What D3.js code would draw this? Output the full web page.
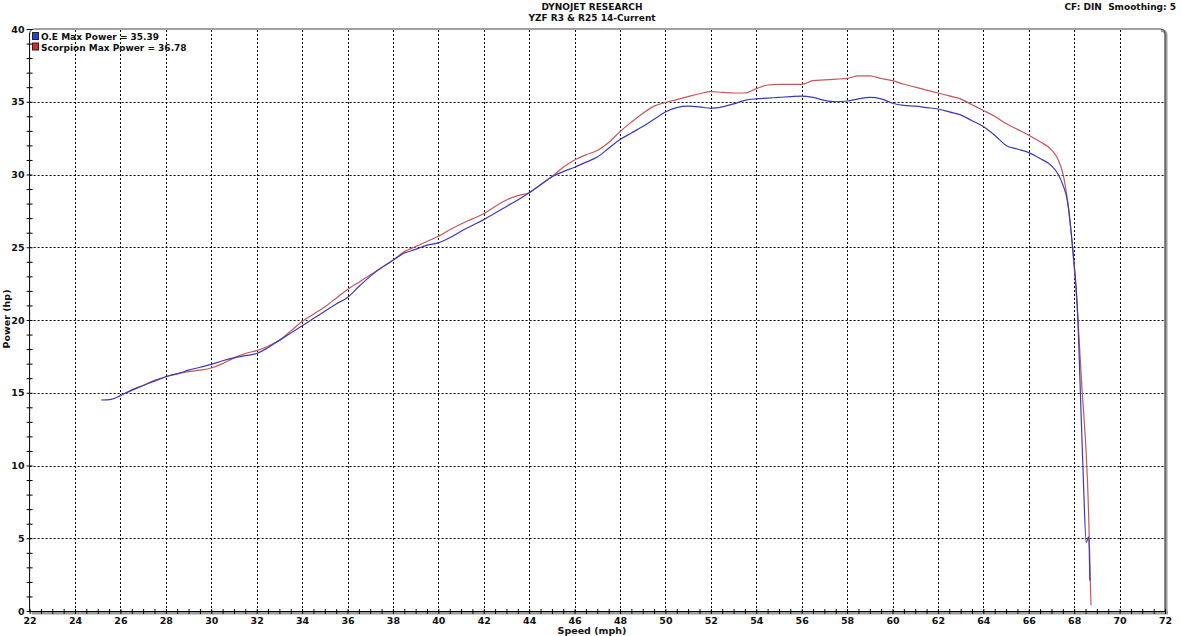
<!DOCTYPE html>
<html><head><meta charset="utf-8">
<script src="https://cdn.jsdelivr.net/npm/d3@7"></script>
<style>
html,body{margin:0;padding:0;background:#fff;}
svg{display:block;font-family:"DejaVu Sans",Verdana,sans-serif;}
</style></head>
<body><svg id="c" width="1182" height="636"></svg>
<script>
const titleLines = ["DYNOJET RESEARCH", "YZF R3 & R25 14-Current"];
const cornerNote = "CF: DIN  Smoothing: 5";
const xLabel = "Speed (mph)";
const yLabel = "Power (hp)";
const seriesNames = ["O.E Max Power = 35.39", "Scorpion Max Power = 36.78"];
const xTicks = [22,24,26,28,30,32,34,36,38,40,42,44,46,48,50,52,54,56,58,60,62,64,66,68,70,72];
const yTicks = [0,5,10,15,20,25,30,35,40];

// O.E (stock) run: [speed mph, power hp]
const oeSpeed = [25.15,25.6,26.0,26.5,27,27.5,28,28.6,29,29.5,30,30.5,31,31.5,32,32.5,33,33.5,34,34.5,35,35.5,36,36.5,37,37.5,38,38.5,39,39.5,40,40.5,41,41.5,42,42.5,43,43.5,44,44.5,45,45.5,46,46.5,47,47.5,48,48.5,49,49.5,50,50.5,51,51.5,52,52.5,53,53.5,54,54.5,55,55.5,56,56.5,57,57.5,58,58.5,59,59.5,60,60.5,61,61.5,62,62.5,63,63.5,64,64.5,65,65.5,66,66.5,67,67.3,67.5,67.7,67.94,68.16,68.26,68.41,68.53,68.64,68.69];
const oePower = [14.5,14.55,14.8,15.2,15.5,15.8,16.1,16.35,16.55,16.75,16.95,17.2,17.4,17.55,17.7,18.1,18.6,19.1,19.6,20.1,20.6,21.1,21.55,22.3,23.0,23.6,24.1,24.6,24.85,25.15,25.3,25.65,26.1,26.5,26.9,27.35,27.8,28.25,28.75,29.3,29.85,30.2,30.5,30.85,31.2,31.8,32.4,32.85,33.3,33.8,34.3,34.6,34.7,34.65,34.55,34.65,34.85,35.1,35.2,35.25,35.3,35.35,35.39,35.3,35.1,35.0,35.05,35.2,35.3,35.2,34.9,34.75,34.7,34.6,34.5,34.3,34.1,33.7,33.3,32.7,32.0,31.75,31.5,31.1,30.6,30.0,29.3,28.2,24.8,20.2,15.65,8.8,4.7,5.1,2.1];

// Scorpion exhaust run
const scSpeed = [26.2,26.5,27,27.5,28,28.5,29,29.5,30,30.5,31,31.5,32,32.5,33,33.5,34,34.5,35,35.5,36,36.5,37,37.5,38,38.5,39,39.5,40,40.5,41,41.5,42,42.5,43,43.5,44,44.5,45,45.5,46,46.5,47,47.5,48,48.5,49,49.5,50,50.5,51,51.5,52,52.5,53,53.5,54,54.5,55,55.5,56,56.5,57,57.5,58,58.5,59,59.5,60,60.5,61,61.5,62,62.5,63,63.5,64,64.5,65,65.5,66,66.5,67,67.3,67.5,67.7,67.94,68.16,68.33,68.59,68.64,68.74];
const scPower = [14.95,15.15,15.5,15.85,16.1,16.3,16.45,16.55,16.7,17.0,17.4,17.7,17.9,18.2,18.6,19.25,19.9,20.4,20.9,21.5,22.1,22.6,23.1,23.6,24.1,24.7,25.05,25.4,25.75,26.2,26.6,26.95,27.3,27.8,28.25,28.55,28.75,29.3,29.85,30.5,31.0,31.35,31.65,32.2,32.95,33.6,34.2,34.7,34.95,35.15,35.35,35.55,35.7,35.65,35.6,35.6,35.9,36.15,36.2,36.2,36.2,36.45,36.5,36.55,36.6,36.78,36.78,36.6,36.45,36.2,36.0,35.8,35.6,35.4,35.2,34.8,34.4,34.0,33.5,33.1,32.7,32.25,31.7,31.0,30.1,28.3,24.8,20.2,15.65,8.8,6.5,0.4];

const svg = d3.select("#c");
const x = d3.scaleLinear().domain([22,72]).range([29.6,1165]);
const y = d3.scaleLinear().domain([0,40]).range([611,29]);

// titles
svg.selectAll("text.title").data(titleLines).join("text")
  .attr("x",592).attr("y",(d,i)=>10+i*11).attr("text-anchor","middle")
  .attr("font-size",9).attr("font-weight","bold").attr("fill","#111").text(d=>d);
svg.append("text").attr("x",1176).attr("y",10).attr("text-anchor","end")
  .attr("font-size",9).attr("font-weight","bold").attr("fill","#111").attr("xml:space","preserve").text(cornerNote);

// frame: top line with rounded corner, right shadowed border
const x0 = x(22), x1 = x(72), yT = y(40), yB = y(0);
svg.append("path").attr("d",`M${x1+1},${yB} L${x1+1},${yT+6} Q${x1+1},${yT+1.5} ${x1-4},${yT+1.5}`)
  .attr("fill","none").attr("stroke","#9a9a9a").attr("stroke-width",3);
svg.append("path").attr("d",`M${x0},${yT+5} Q${x0},${yT} ${x0+5},${yT} L${x1-5},${yT} Q${x1},${yT} ${x1},${yT+5} L${x1},${yB}`)
  .attr("fill","none").attr("stroke","#444").attr("stroke-width",1);
// bottom gray bar
svg.append("rect").attr("x",x0+2).attr("y",yB).attr("width",x1-x0+1).attr("height",3.5).attr("fill","#9c9c9c");

// gridlines
const g = svg.append("g");
g.selectAll("line.vg").data(xTicks.filter(v=>v>22&&v<72)).join("line")
  .attr("x1",d=>Math.round(x(d))+0.5).attr("x2",d=>Math.round(x(d))+0.5)
  .attr("y1",yT+1).attr("y2",yB)
  .attr("stroke","#000").attr("stroke-width",1).attr("stroke-dasharray","2,2");
g.selectAll("line.hg").data(yTicks.filter(v=>v>0&&v<40)).join("line")
  .attr("y1",d=>Math.round(y(d))+0.5).attr("y2",d=>Math.round(y(d))+0.5)
  .attr("x1",x0).attr("x2",x1)
  .attr("stroke","#000").attr("stroke-width",1).attr("stroke-dasharray","2,2");

// axes
const xMinor = d3.range(22,72.01,0.5);
const yMinor = d3.range(0,40.01,1);
const xAx = svg.append("g").attr("transform",`translate(0,${yB})`)
  .call(d3.axisBottom(x).tickValues(xMinor).tickSize(3).tickFormat(""));
xAx.select(".domain").remove();
xAx.selectAll(".tick line").attr("stroke","#000").attr("y1",-2);
const xLab = svg.append("g").attr("transform",`translate(0,${yB})`)
  .call(d3.axisBottom(x).tickValues(xTicks).tickSize(0).tickPadding(6).tickFormat(d3.format("d")));
xLab.select(".domain").remove();
xLab.selectAll("text").attr("font-size",9.5).attr("font-weight","bold").attr("fill","#111")
  .attr("font-family","DejaVu Sans, Verdana, sans-serif");

const yAx = svg.append("g").attr("transform",`translate(${x0},0)`)
  .call(d3.axisLeft(y).tickValues(yMinor).tickSize(3).tickFormat(""));
yAx.select(".domain").remove();
yAx.selectAll(".tick line").attr("stroke","#000").attr("x2",3).attr("x1",-3);
const yLab = svg.append("g").attr("transform",`translate(${x0},0)`)
  .call(d3.axisLeft(y).tickValues(yTicks).tickSize(0).tickPadding(5).tickFormat(d3.format("d")));
yLab.select(".domain").remove();
yLab.selectAll("text").attr("font-size",9.5).attr("font-weight","bold").attr("fill","#111")
  .attr("font-family","DejaVu Sans, Verdana, sans-serif");

// axis lines
svg.append("line").attr("x1",x0).attr("x2",x0).attr("y1",yT+4).attr("y2",yB).attr("stroke","#000");
svg.append("line").attr("x1",x0).attr("x2",x1).attr("y1",yB+0.5).attr("y2",yB+0.5).attr("stroke","#000");

// axis titles
svg.append("text").attr("x",592).attr("y",634).attr("text-anchor","middle")
  .attr("font-size",9.5).attr("font-weight","bold").attr("fill","#111").text(xLabel);
svg.append("text").attr("transform","translate(10,319) rotate(-90)").attr("text-anchor","middle")
  .attr("font-size",9.5).attr("font-weight","bold").attr("fill","#111").text(yLabel);

// curves
const line = d3.line().x(d=>x(d[0])).y(d=>y(d[1])).curve(d3.curveMonotoneX);
const oe = oeSpeed.map((s,i)=>[s,oePower[i]]);
const sc = scSpeed.map((s,i)=>[s,scPower[i]]);
svg.append("path").datum(sc).attr("d",line).attr("fill","none").attr("stroke","#c45858").attr("stroke-width",1.2);
svg.append("path").datum(oe).attr("d",line).attr("fill","none").attr("stroke","#3b3bb5").attr("stroke-width",1.2);

// legend
const legColors = ["#2a3fd6","#d42a2a"];
const leg = svg.append("g");
seriesNames.forEach((n,i)=>{
  leg.append("rect").attr("x",32.5).attr("y",32.5+i*10.5).attr("width",6).attr("height",7)
    .attr("fill",legColors[i]).attr("stroke","#222").attr("stroke-width",1);
  leg.append("text").attr("x",41).attr("y",40+i*10.5).attr("font-size",9).attr("font-weight","bold")
    .attr("fill","#111").text(n);
});
</script></body></html>
